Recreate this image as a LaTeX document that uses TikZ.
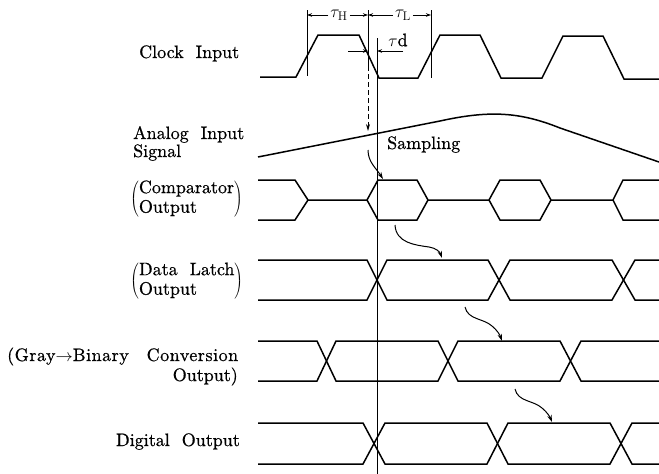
\documentclass[tikz,border=0pt]{standalone}
\usepackage{fontspec}
\newfontfamily\lblfont{lmroman10-regular.otf}[FakeBold=0.7]
\usetikzlibrary{arrows.meta}
\begin{document}
\begin{tikzpicture}[x=1pt,y=-1pt,
  sig/.style={line width=1.5pt,line join=miter},
  vline/.style={line width=0.8pt},
  lbl/.style={inner sep=0pt,font=\lblfont\fontsize{18}{19.5}\selectfont},
  dimarr/.style={vline,-{Stealth[length=5pt,width=3.5pt]}},
  curarr/.style={line width=1pt,-{Stealth[length=7pt,width=4.5pt]}}]
\useasboundingbox (0,0) rectangle (659,474);
% clock
\draw[sig] (260,77) -- (296,77) -- (318,35) -- (359,35) -- (379,78) -- (418,78) -- (440,35) -- (480,35) -- (501,78) -- (542,78) -- (563,36) -- (603,36) -- (624,79) -- (659,79);
% dimension lines
\coordinate (h1t) at (307,10); \coordinate (h1b) at (307,76);
\coordinate (h2t) at (368,10); \coordinate (h2m) at (368,66); \coordinate (h2b) at (368,131);
\coordinate (l2t) at (431,10); \coordinate (l2b) at (431,78);
\coordinate (mt) at (377,38); \coordinate (mb) at (377,474);
\draw[vline] (h1t) -- (h1b);
\draw[vline] (h2t) -- (h2m);
\draw[vline,dashed,dash pattern=on 5pt off 3pt,-{Stealth[length=7pt,width=4pt]}] (h2m) -- (h2b);
\draw[vline] (l2t) -- (l2b);
\draw[vline] (mt) -- (mb);
\node[lbl,inner xsep=2pt] (tH) at (339,15) {$\tau_{\mathrm{H}}$};
\node[lbl,inner xsep=2pt] (tL) at (403,15) {$\tau_{\mathrm{L}}$};
\draw[dimarr] (tH.west) -- (h1t |- tH.west);
\draw[dimarr] (tH.east) -- (h2t |- tH.east);
\draw[dimarr] (tL.west) -- (h2t |- tL.west);
\draw[dimarr] (tL.east) -- (l2t |- tL.east);
\node[lbl] (td) at (398,40) {$\tau$d};
\coordinate (dl) at (348,51); \coordinate (dr) at (403,51);
\draw[dimarr] (dl) -- (dl -| h2t);
\draw[dimarr] (dr) -- (dr -| mt);
% analog
\draw[sig] (258,157) -- (440,121) .. controls (490,110) and (520,112) .. (560,128) -- (659,162);
\node[lbl,anchor=base west] (samp) at (387,149) {Sampling};
\coordinate (a1s) at (368,150); \coordinate (a1e) at (383,179);
\draw[curarr] (a1s) .. controls (368,162) and (376,168) .. (a1e);
% comparator
\draw[sig] (258,180) -- (295,180) -- (308,200) -- (367,200) -- (378,180) -- (417,180) -- (428,200) -- (489,200) -- (500,180) -- (540,180) -- (551,200) -- (613,200) -- (623,180) -- (659,180);
\draw[sig] (258,220) -- (295,220) -- (308,200);
\draw[sig] (367,200) -- (378,220) -- (417,220) -- (428,200);
\draw[sig] (489,200) -- (500,220) -- (540,220) -- (551,200);
\draw[sig] (613,200) -- (623,220) -- (659,220);
% data latch
\draw[sig] (258,260) -- (367,260) -- (387,300) -- (488,300) -- (510,260) -- (612,260) -- (635,300) -- (659,300);
\draw[sig] (258,300) -- (367,300) -- (387,260) -- (488,260) -- (510,300) -- (612,300) -- (635,260) -- (659,260);
\coordinate (a2s) at (395,225); \coordinate (a2e) at (442,258);
\draw[curarr] (a2s) .. controls (396,243) and (415,245) .. (429,247) .. controls (436,248) and (440,252) .. (a2e);
% gray
\draw[sig] (258,341) -- (317,341) -- (336,381) -- (438,381) -- (458,341) -- (560,341) -- (581,381) -- (659,381);
\draw[sig] (258,381) -- (317,381) -- (336,341) -- (438,341) -- (458,381) -- (560,381) -- (581,341) -- (659,341);
\coordinate (a3s) at (465,307); \coordinate (a3e) at (502,341);
\draw[curarr] (a3s) .. controls (468,320) and (483,318) .. (492,326) .. controls (497,330) and (500,335) .. (a3e);
% digital
\draw[sig] (258,423) -- (363,423) -- (385,464) -- (487,464) -- (508,423) -- (610,423) -- (632,464) -- (659,464);
\draw[sig] (258,464) -- (363,464) -- (385,423) -- (487,423) -- (508,464) -- (610,464) -- (632,423) -- (659,423);
\coordinate (a4s) at (515,389); \coordinate (a4e) at (552,422);
\draw[curarr] (a4s) .. controls (518,402) and (533,400) .. (542,408) .. controls (547,412) and (550,417) .. (a4e);
% labels
\node[lbl,anchor=base west] (clk) at (139,58) {Clock\ \ Input};
\node[lbl,anchor=base west] (an1) at (133,139) {Analog\ \ Input};
\node[lbl,anchor=base west] (an2) at (133,157) {Signal};
\node[lbl,anchor=west] (cmp) at (130,199) {$\left(\begin{tabular}{@{}l@{}}Comparator\\Output\end{tabular}\right)$};
\node[lbl,anchor=west] (dlt) at (130,281) {$\left(\begin{tabular}{@{}l@{}}Data\ \ Latch\\Output\end{tabular}\right)$};
\node[lbl,anchor=base west,text width=231pt,align=left] (gr1) at (7,361) {\addfontfeature{LetterSpace=3}(Gray$\rightarrow$Binary\hfill Conversion};
\node[lbl,anchor=base east] (gr2) at (238,381) {Output)};
\node[lbl,anchor=base east] (dig) at (240,446) {Digital\ \ Output};
\end{tikzpicture}
\end{document}
